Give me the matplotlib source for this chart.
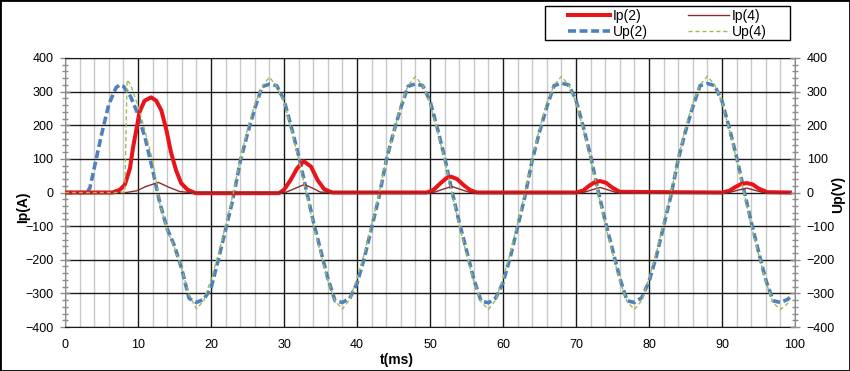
import matplotlib
matplotlib.use("Agg")
import matplotlib.pyplot as plt
from matplotlib.ticker import MultipleLocator
from matplotlib.patches import Rectangle

plt.rcParams['font.family'] = ['Liberation Sans', 'DejaVu Sans']

# ---- data ----
t_up2 = [0, 1, 2, 3, 3.4, 4, 5, 6, 7, 7.5, 8, 9, 10, 11, 12, 13, 14, 15, 16, 17, 18, 19,
         20, 21, 22, 23, 24, 25, 26, 27, 28, 29, 30, 31, 32, 33, 34, 35, 36, 37, 38, 39,
         40, 41, 42, 43, 44, 45, 46, 47, 48, 49, 50, 51, 52, 53, 54, 55, 56, 57, 58, 59,
         60, 61, 62, 63, 64, 65, 66, 67, 68, 69, 70, 71, 72, 73, 74, 75, 76, 77, 78, 79,
         80, 81, 82, 83, 84, 85, 86, 87, 88, 89, 90, 91, 92, 93, 94, 95, 96, 97, 98, 99, 99.3]
up2 = [0, 0, 0, 0, 13, 72, 172, 262, 312, 320, 316, 285, 232, 160, 68, -32, -108, -159, -228, -315, -327, -318,
       -285, -200, -110, -20, 92, 175, 250, 315, 322, 318, 275, 195, 110, 13, -85, -170, -255, -322, -327, -315,
       -270, -195, -105, -15, 95, 178, 252, 316, 323, 318, 272, 192, 105, 5, -88, -172, -258, -323, -328, -314,
       -268, -192, -102, -12, 96, 180, 255, 318, 325, 320, 275, 195, 108, 8, -85, -170, -255, -322, -327, -313,
       -265, -190, -100, -10, 98, 182, 255, 318, 324, 318, 272, 192, 105, 8, -88, -175, -260, -322, -327, -318, -312]

t_up4 = [0, 2, 4, 6, 8, 8.2, 8.5, 9, 10, 11, 12, 12.5, 13, 14, 15, 16, 17, 18, 19,
         20, 21, 22, 23, 24, 25, 26, 27, 28, 29, 30, 31, 32, 33, 34, 35, 36, 37, 38, 39,
         40, 41, 42, 43, 44, 45, 46, 47, 48, 49, 50, 51, 52, 53, 54, 55, 56, 57, 58, 59,
         60, 61, 62, 63, 64, 65, 66, 67, 68, 69, 70, 71, 72, 73, 74, 75, 76, 77, 78, 79,
         80, 81, 82, 83, 84, 85, 86, 87, 88, 89, 90, 91, 92, 93, 94, 95, 96, 97, 98, 99, 99.3]
up4 = [0, 0, 0, 0, 0, 0, 335, 320, 258, 180, 95, 32, -35, -112, -165, -228, -305, -346, -322,
       -258, -185, -98, -8, 98, 188, 262, 315, 343, 316, 268, 188, 100, 3, -95, -180, -262, -322, -347, -318,
       -255, -182, -95, -5, 100, 175, 262, 318, 345, 318, 265, 185, 98, 0, -98, -182, -265, -325, -348, -320,
       -255, -180, -92, -3, 102, 190, 265, 320, 345, 320, 268, 188, 100, 2, -95, -180, -262, -325, -348, -322,
       -255, -180, -92, -3, 102, 192, 265, 320, 346, 320, 268, 186, 98, 0, -98, -182, -265, -328, -348, -330, -318]

t_ip2 = [0, 6.5, 7.5, 8.2, 8.9, 9.3, 9.8, 10.2, 10.9, 11.8, 12.5, 13.2, 13.9, 14.5, 15.2, 15.9, 16.8, 17.9,
         29.3, 30.0, 30.9, 31.8, 32.7, 33.7, 34.6, 35.5, 36.6,
         49.6, 50.5, 51.3, 52.2, 52.9, 53.7, 54.6, 55.5, 56.4,
         70, 71, 71.8, 72.6, 73.3, 74.1, 75, 76,
         90, 91, 91.8, 92.6, 93.4, 94.2, 95, 96.2, 99.3]
ip2 = [0, 0, 8, 23, 72, 131, 190, 239, 273, 283, 273, 244, 185, 121, 67, 28, 8, -2,
       -2, 8, 37, 72, 93, 77, 37, 10, 0,
       0, 8, 25, 42, 47, 40, 22, 7, 0,
       0, 6, 20, 31, 34, 29, 14, 2,
       0, 5, 16, 25, 28, 24, 12, 1, 0]

t_ip4 = [0, 8.4, 9.8, 11.1, 12.8, 14.3, 15.7, 17,
         30.2, 31.5, 32.8, 34, 35,
         50.5, 51.8, 53, 54.2, 55.5,
         71, 72.2, 73.3, 74.5, 75.5,
         91, 92.2, 93.4, 94.6, 95.6, 99.3]
ip4 = [0, 0, 5, 18, 30, 15, 3, 0,
       0, 12, 24, 12, 1,
       0, 10, 18, 9, 0,
       0, 8, 15, 7, 0,
       0, 7, 13, 6, 0, 0]

labels = ["Ip(2)", "Ip(4)", "Up(2)", "Up(4)"]

# ---- figure ----
W, H = 850, 371
fig = plt.figure(figsize=(W / 100, H / 100), dpi=100)
ax = fig.add_axes([65 / W, 1 - 327 / H, 730 / W, 269 / H])

l_up2, = ax.plot(t_up2, up2, color='#4F81BD', lw=2.6, dashes=(2.2, 1.0), zorder=3, label=labels[2])
l_ip2, = ax.plot(t_ip2, ip2, color='#E8141A', lw=2.9, zorder=4, label=labels[0])
l_ip4, = ax.plot(t_ip4, ip4, color='#8C2A2A', lw=1.0, zorder=5, label=labels[1])
l_up4, = ax.plot(t_up4, up4, color='#9BBB59', lw=1.0, dashes=(3, 2), zorder=6, label=labels[3])

ax.set_xlim(0, 100)
ax.set_ylim(-400, 400)
ax.xaxis.set_major_locator(MultipleLocator(10))
ax.xaxis.set_minor_locator(MultipleLocator(2))
ax.yaxis.set_major_locator(MultipleLocator(100))
ax.yaxis.set_minor_locator(MultipleLocator(20))

ax.grid(which='minor', axis='x', color='#C8C8C8', lw=1.0, zorder=0)
ax.grid(which='major', axis='x', color='#1A1A1A', lw=1.0, zorder=1)
ax.grid(which='major', axis='y', color='#1A1A1A', lw=1.0, zorder=1)
ax.set_axisbelow(True)

for s in ['left', 'right']:
    ax.spines[s].set_color('#8C8C8C')
for s in ['top', 'bottom']:
    ax.spines[s].set_color('#1A1A1A')

ax.tick_params(axis='x', which='both', length=0, pad=9, labelsize=9)
ax.tick_params(axis='y', which='major', direction='inout', length=7, width=1, color='#8C8C8C', pad=5, labelsize=9)
ax.tick_params(axis='y', which='minor', direction='inout', length=5, width=1, color='#8C8C8C')

ax2 = ax.twinx()
ax2.set_ylim(-400, 400)
ax2.yaxis.set_major_locator(MultipleLocator(100))
ax2.yaxis.set_minor_locator(MultipleLocator(20))
ax2.tick_params(axis='y', which='major', direction='inout', length=7, width=1, color='#8C8C8C', pad=5, labelsize=9)
ax2.tick_params(axis='y', which='minor', direction='inout', length=5, width=1, color='#8C8C8C')
for s in ax2.spines.values():
    s.set_visible(False)

ax.set_xlabel('t(ms)', fontsize=10, fontweight='bold')
ax.xaxis.set_label_coords((397 - 65) / 730, -(353 - 327) / 269)
ax.set_ylabel('Ip(A)', fontsize=10, fontweight='bold')
ax.yaxis.set_label_coords(-(65 - 30) / 730, (327 - 207) / 269)
ax2.set_ylabel('Up(V)', fontsize=10, fontweight='bold')
ax2.yaxis.set_label_coords((831 - 65) / 730, (327 - 194) / 269)

leg = fig.legend(handles=[l_ip2, l_up2, l_ip4, l_up4], labels=[labels[0], labels[2], labels[1], labels[3]],
                 ncol=2, loc='upper left', bbox_to_anchor=(568 / W, 1 - 9 / H),
                 fontsize=10, frameon=False,
                 borderpad=0, labelspacing=0.15, handlelength=3.0, handletextpad=0.2,
                 columnspacing=2.9, borderaxespad=0)

fig.patches.append(Rectangle((545 / W, 1 - 40 / H), 245 / W, 34 / H, transform=fig.transFigure,
                             fill=False, edgecolor='black', lw=1.0, zorder=10))
fig.patches.append(Rectangle((0, 0), 1, 1, transform=fig.transFigure, fill=False,
                             edgecolor='black', lw=2, zorder=10))

fig.savefig('out.png', dpi=100)
